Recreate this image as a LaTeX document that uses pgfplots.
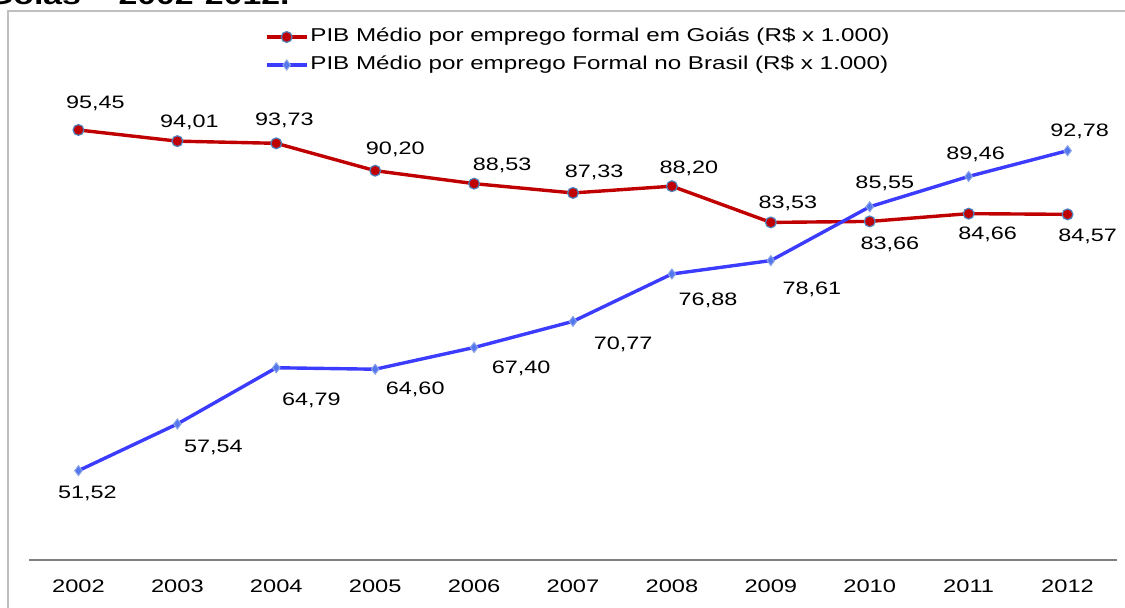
\documentclass[border=0pt]{standalone}
\usepackage{fontspec}
\setmainfont{Liberation Sans}[FakeStretch=1.3]
\usepackage{pgfplots}
\pgfplotsset{compat=1.18}
\usepackage{pgfplotstable}
\definecolor{gred}{HTML}{C00000}
\definecolor{bblue}{HTML}{3C3CFF}
\definecolor{mkedge}{HTML}{4F81BD}
\definecolor{dfill}{HTML}{5577EE}
\definecolor{dedge}{HTML}{8AA4E8}
\definecolor{framegray}{HTML}{BFBFBF}
\definecolor{axisgray}{HTML}{808080}

\pgfplotstableread{
x y
0 95.45
1 94.01
2 93.73
3 90.20
4 88.53
5 87.33
6 88.20
7 83.53
8 83.66
9 84.66
10 84.57
}\goias

\pgfplotstableread{
x y
0 51.52
1 57.54
2 64.79
3 64.60
4 67.40
5 70.77
6 76.88
7 78.61
8 85.55
9 89.46
10 92.78
}\brasil

\pgfplotstableread{
x y label
0.172 98.93 95,45
1.122 96.46 94,01
2.081 96.70 93,73
3.203 92.91 90,20
4.284 90.85 88,53
5.213 90.04 87,33
6.172 90.52 88,20
7.172 85.98 83,53
8.203 80.69 83,66
9.193 81.95 84,66
10.203 81.73 84,57
}\goiaslab

\pgfplotstableread{
x y label
0.091 48.55 51,52
1.365 54.45 57,54
2.355 60.53 64,79
3.405 62.02 64,60
4.476 64.69 67,40
5.507 67.80 70,77
6.365 73.53 76,88
7.415 74.87 78,61
8.152 88.52 85,55
9.071 92.30 89,46
10.122 95.23 92,78
}\brasillab

\begin{document}
\begin{tikzpicture}
\useasboundingbox (0,0) rectangle (562.5pt,304pt);
\clip (0,0) rectangle (562.5pt,304pt);
\draw[framegray, line width=0.8pt] (4pt,-5pt) -- (4pt,298.5pt) -- (570pt,298.5pt);
\node[anchor=base east, font=\fontsize{13}{15}\selectfont\bfseries, inner sep=0pt] at (145pt,301.5pt) {Goiás – 2002-2012.};
\begin{axis}[
  at={(14.5pt,24pt)}, anchor=south west,
  scale only axis, width=544pt, height=232.65pt,
  xmin=-0.5, xmax=10.5, ymin=40, ymax=100,
  axis x line=bottom, axis y line=none,
  x axis line style={draw=axisgray, line width=0.85pt, -},
  xtick={0,...,10},
  xticklabels={2002,2003,2004,2005,2006,2007,2008,2009,2010,2011,2012},
  major tick length=0pt,
  xtick style={draw=none},
  xticklabel style={anchor=base, yshift=-16.5pt, inner sep=0pt, font=\fontsize{9.1}{11}\selectfont},
  clip=false,
  legend style={at={(0.2169,1.0939)}, anchor=west, draw=none, fill=none,
    inner sep=0pt, outer sep=0pt, font=\fontsize{9.3}{11}\selectfont,
    row sep=5.5pt, nodes={inner xsep=1pt, inner ysep=0pt, text height=6.6pt, text depth=1.9pt}},
  legend cell align=left,
  legend image code/.code={\draw[mark repeat=2, mark phase=2, #1] plot coordinates {(0pt,0pt) (10pt,0pt) (20pt,0pt)};},
]
\addplot[gred, line width=1.7pt, mark=*, mark size=2.7pt, mark options={fill=gred, draw=mkedge, line width=0.6pt}] table[x=x,y=y] {\goias};
\addlegendentry{PIB Médio por emprego formal em Goiás (R\$ x 1.000)}
\addplot[bblue, line width=1.7pt, mark=diamond*, mark size=2.5pt, mark options={fill=dfill, draw=dedge, line width=0.5pt}] table[x=x,y=y] {\brasil};
\addlegendentry{PIB Médio por emprego Formal no Brasil (R\$ x 1.000)}
\addplot[draw=none, mark=none, forget plot, nodes near coords, point meta=explicit symbolic,
  nodes near coords style={anchor=center, inner sep=0pt, font=\fontsize{9}{11}\selectfont}]
  table[x=x, y=y, meta=label] {\goiaslab};
\addplot[draw=none, mark=none, forget plot, nodes near coords, point meta=explicit symbolic,
  nodes near coords style={anchor=center, inner sep=0pt, font=\fontsize{9}{11}\selectfont}]
  table[x=x, y=y, meta=label] {\brasillab};
\end{axis}
\end{tikzpicture}
\end{document}
